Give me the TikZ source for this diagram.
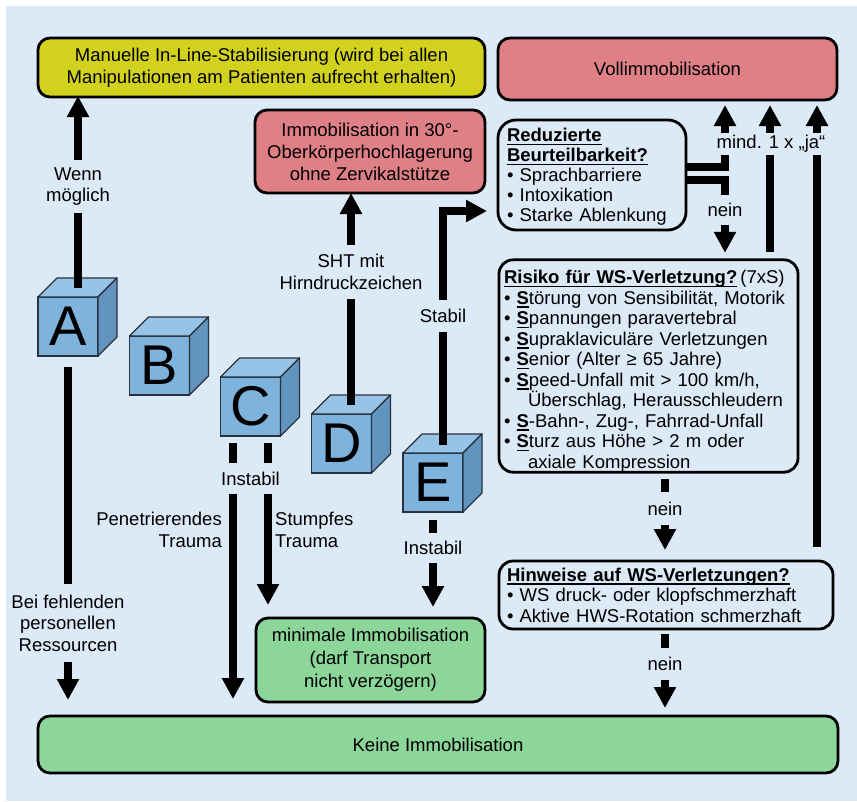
\documentclass[tikz,border=0pt]{standalone}
\usepackage{fontspec}
\setmainfont{Liberation Sans}
\usetikzlibrary{arrows.meta,calc}
\definecolor{bg}{RGB}{220,233,246}
\definecolor{yell}{RGB}{210,210,30}
\definecolor{pinkred}{RGB}{222,128,134}
\definecolor{greenbox}{RGB}{140,214,154}
\definecolor{cubefront}{RGB}{126,179,222}
\definecolor{cubetop}{RGB}{150,195,230}
\definecolor{cubeside}{RGB}{98,148,192}
\definecolor{cubeline}{RGB}{40,50,60}
\newsavebox\ulbox
\newcommand\myul[1]{\leavevmode\sbox\ulbox{#1}\rlap{\rule[-3.6pt]{\wd\ulbox}{1.6pt}}\usebox\ulbox}
\newcommand\mycube[4]{%
  \node[cubestyle] (#1) at (#2,#3) {#4};
  \filldraw[cubeedge, fill=cubetop] (#1.north west) -- ++(19,-19) -- ++(60,0) -- (#1.north east) -- cycle;
  \filldraw[cubeedge, fill=cubeside] (#1.north east) -- ++(19,-19) -- ++(0,59) -- (#1.south east) -- cycle;
}
\begin{document}
\begin{tikzpicture}[x=1pt,y=-1pt,
  font=\fontsize{18.5}{21.5}\selectfont,
  box/.style={draw=black, line width=2.8pt, rounded corners=12pt, inner sep=0pt, outer sep=0pt, align=center},
  qbox/.style={draw=black, line width=2.8pt, fill=bg, outer sep=0pt, align=left, inner ysep=0pt, font=\fontsize{18.5}{20.5}\selectfont},
  arr/.style={line width=7.5pt, -{Triangle[width=21pt,length=21pt]}},
  lbl/.style={fill=bg, inner xsep=1pt, inner ysep=0pt, align=center},
  cubestyle/.style={draw=cubeline, line width=1.2pt, fill=cubefront, minimum width=60pt, minimum height=59pt, inner sep=0pt, outer sep=0pt, font=\fontsize{56}{56}\selectfont},
  cubeedge/.style={draw=cubeline, line width=1.2pt, line join=round},
]
\useasboundingbox (0,0) rectangle (857,801);
\fill[white] (0,0) rectangle (857,801);
\fill[bg] (6,6) rectangle (857,801);

% boxes
\node[box, fill=yell, minimum width=447pt, minimum height=59pt] (man) at (261.5,67.5)
  {Manuelle In-Line-Stabilisierung (wird bei allen\\Manipulationen am Patienten aufrecht erhalten)};
\node[box, fill=pinkred, minimum width=339pt, minimum height=62pt] (voll) at (667.5,69) {Vollimmobilisation};
\node[box, fill=pinkred, minimum width=230pt, minimum height=83pt, font=\fontsize{18.5}{22}\selectfont] (immob) at (370,151.5)
  {Immobilisation in 30°-\\Oberkörperhochlagerung\\ohne Zervikalstütze};
\node[qbox, rounded corners=18pt, inner xsep=9pt, text width=170pt, minimum width=188pt, minimum height=110pt, font=\fontsize{18.5}{20}\selectfont] (reduz) at (592,175)
  {\rule{0pt}{17pt}\myul{\textbf{Reduzierte}}\\\myul{\textbf{Beurteilbarkeit?}}\\• Sprachbarriere\\• Intoxikation\\• Starke Ablenkung};
\node[qbox, rounded corners=14pt, inner xsep=5pt, text width=289pt, minimum width=299pt, minimum height=212pt] (risiko) at (648.5,366)
  {\rule{0pt}{24pt}\myul{\textbf{Risiko für WS-Verletzung?}}\,(7xS)\\
   • \myul{\textbf{S}}törung von Sensibilität, Motorik\\
   • \myul{\textbf{S}}pannungen paravertebral\\
   • \myul{\textbf{S}}upraklaviculäre Verletzungen\\
   • \myul{\textbf{S}}enior (Alter ≥ 65 Jahre)\\
   • \myul{\textbf{S}}peed-Unfall mit > 100 km/h,\\
   \hspace*{24pt}Überschlag, Herausschleudern\\
   • \myul{\textbf{S}}-Bahn-, Zug-, Fahrrad-Unfall\\
   • \myul{\textbf{S}}turz aus Höhe > 2 m oder\\
   \hspace*{24pt}axiale Kompression};
\node[qbox, rounded corners=14pt, inner xsep=8pt, text width=318pt, minimum width=334pt, minimum height=68pt] (hinw) at (666,595)
  {\myul{\textbf{Hinweise auf WS-Verletzungen?}}\\• WS druck- oder klopfschmerzhaft\\• Aktive HWS-Rotation schmerzhaft};
\node[box, fill=greenbox, minimum width=229pt, minimum height=84pt, font=\fontsize{18.5}{23}\selectfont] (mini) at (370.5,660)
  {minimale Immobilisation\\(darf Transport\\nicht verzögern)};
\node[box, fill=greenbox, minimum width=800pt, minimum height=57pt] (keine) at (438,744.5) {Keine Immobilisation};

% cubes
\mycube{A}{68}{326.5}{A}
\mycube{B}{159.5}{365.5}{B}
\mycube{C}{250.5}{406.5}{C}
\mycube{D}{341.5}{443.5}{D}
\mycube{E}{433}{482.5}{E}

% connectors
\draw[arr, shorten >=8pt] ([xshift=10pt,yshift=9pt]A.north) -- ([xshift=10pt,yshift=9pt]A.north |- man.south);
\draw[arr, shorten <=11pt, shorten >=16pt] (A.south) -- (A.south |- keine.north);
\draw[arr, shorten <=7pt, shorten >=17pt] ([xshift=-17.5pt]C.south) -- ([xshift=-17.5pt]C.south |- keine.north);
\draw[arr, shorten <=7pt, shorten >=13pt] ([xshift=17.5pt]C.south) -- ([xshift=17.5pt]C.south |- mini.north);
\draw[arr, shorten >=9pt] ([xshift=9.5pt,yshift=9pt]D.north) -- ([xshift=9.5pt,yshift=9pt]D.north |- immob.south);
\draw[arr, shorten >=11pt] ([xshift=10pt,yshift=8pt]E.north) |- ([yshift=-36pt]reduz.west);
\draw[arr, shorten <=8pt, shorten >=11pt] (E.south) -- (E.south |- mini.north);
\draw[arr, shorten >=5pt] ([yshift=8pt]reduz.east) -| ([xshift=57.5pt]voll.south);
\draw[arr, shorten >=7pt] ([yshift=-5pt]reduz.east) -| ([xshift=76.5pt]risiko.north);
\draw[arr, shorten <=8pt, shorten >=5pt] ([xshift=121.5pt]risiko.north) -- ([xshift=121.5pt]risiko.north |- voll.south);
\draw[arr, shorten <=14pt, shorten >=5pt] ([xshift=151pt]hinw.north) -- ([xshift=151pt]hinw.north |- voll.south);
\draw[arr, shorten <=7pt, shorten >=11pt] ([xshift=16.5pt]risiko.south) -- ([xshift=16.5pt]risiko.south |- hinw.north);
\draw[arr, shorten <=5pt, shorten >=8pt] ([xshift=-1pt]hinw.south) -- ([xshift=-1pt]hinw.south |- keine.north);

% labels
\node[lbl, minimum height=53pt] (lwenn) at (78,186.5) {Wenn\\möglich};
\node[lbl, minimum height=78pt] (lbei) at (68,623) {Bei fehlenden\\personellen\\Ressourcen};
\node[lbl, minimum height=31pt] (linsc) at (250.5,478.5) {Instabil};
\node[anchor=east, align=right, inner sep=2pt] (lpen) at (224,530) {Penetrierendes\\Trauma};
\node[anchor=west, align=left, inner sep=2pt] (lstu) at (273,530) {Stumpfes\\Trauma};
\node[lbl, minimum height=54pt] (lsht) at (351,272) {SHT mit\\Hirndruckzeichen};
\node[lbl, minimum height=32pt] (lstab) at (443,316) {Stabil};
\node[lbl, minimum height=30pt] (linse) at (433,548) {Instabil};
\node[lbl, minimum height=22pt] (lja) at (771,144) {mind. 1 x „ja“};
\node[lbl, minimum height=30pt] (lnein1) at (725,210) {nein};
\node[lbl, minimum height=33pt] (lnein2) at (665,508.5) {nein};
\node[lbl, minimum height=32pt] (lnein3) at (665,664) {nein};
\end{tikzpicture}
\end{document}
